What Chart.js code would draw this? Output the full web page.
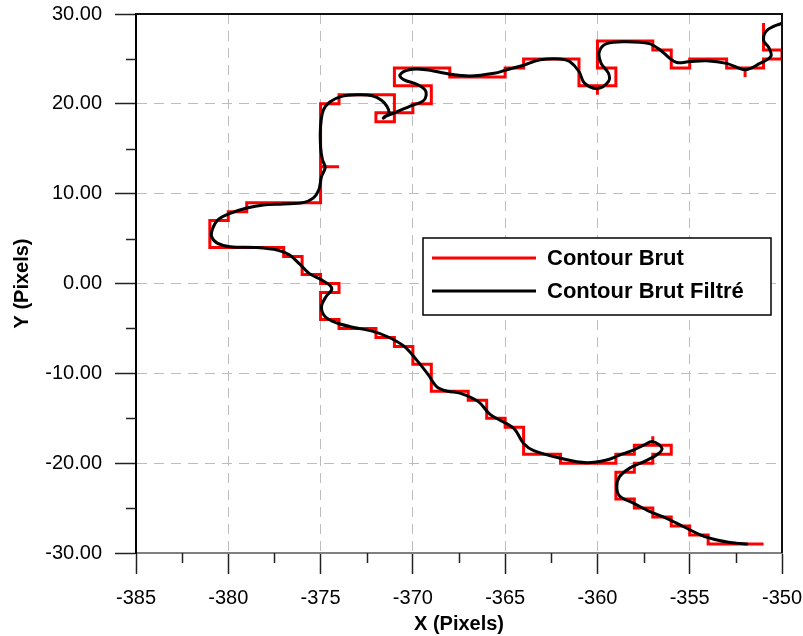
<!DOCTYPE html>
<html>
<head>
<meta charset="utf-8">
<script src="https://cdn.jsdelivr.net/npm/chart.js@4/dist/chart.umd.min.js"></script>
<style>
  html, body { margin: 0; padding: 0; background: #fff; }
  #wrap { width: 803px; height: 636px; }
</style>
</head>
<body>
<div id="wrap"><canvas id="c" width="803" height="636"></canvas></div>
<script>
// Raw pixel contour (integer steps)
const rawX = [-351,-351,-350,-350,-351,-351,-352,-352,-352,-353,-353,-355,-355,-356,-356,-357,-357,-360,-360,-359,-359,-360,-360,-360,-361,-361,-364,-364,-365,-365,-368,-368,-371,-371,-369,-369,-370,-370,-372,-372,-371,-371,-374,-374,-375,-375,-374,-375,-375,-379,-379,-380,-380,-381,-381,-377,-377,-376,-376,-375,-375,-374,-374,-375,-375,-374,-374,-372,-372,-371,-371,-370,-370,-369,-369,-367,-367,-366,-366,-365,-365,-364,-364,-362,-362,-359,-359,-358,-358,-357,-357,-357,-356,-356,-357,-357,-358,-358,-359,-359,-358,-358,-357,-357,-356,-356,-355,-355,-354,-354,-351];
const rawY = [29,26,26,25,25,24,24,23,24,24,25,25,24,24,26,26,27,27,24,24,22,22,21,22,22,25,25,24,24,23,23,24,24,22,22,20,20,19,19,18,18,21,21,20,20,13,13,13,9,9,8,8,7,7,4,4,3,3,1,1,0,0,-1,-1,-4,-4,-5,-5,-6,-6,-7,-7,-9,-9,-12,-12,-13,-13,-15,-15,-16,-16,-19,-19,-20,-20,-19,-19,-18,-18,-17,-18,-18,-19,-19,-20,-20,-21,-21,-24,-24,-25,-25,-26,-26,-27,-27,-28,-28,-29,-29];

// Smoothed contour
const filtX = [-350.0,-350.8,-351.0,-350.7,-350.6,-351.2,-352.0,-353.0,-354.1,-355.0,-355.7,-356.1,-356.6,-357.2,-358.4,-359.5,-359.9,-359.8,-359.4,-359.4,-360.0,-360.7,-361.0,-361.5,-362.0,-363.1,-364.0,-364.9,-365.6,-366.9,-368.0,-369.3,-370.2,-370.7,-370.5,-369.7,-369.3,-369.4,-370.2,-371.0,-371.5,-371.6,-371.3,-371.4,-371.7,-372.2,-373.0,-373.9,-374.5,-374.85,-375.0,-375.0,-374.9,-374.75,-374.95,-375.1,-375.4,-375.95,-377.0,-378.1,-379.0,-379.9,-380.55,-380.85,-380.9,-380.6,-379.9,-378.5,-377.3,-376.7,-376.1,-375.6,-374.95,-374.5,-374.4,-374.7,-374.95,-374.75,-374.1,-373.2,-372.3,-371.4,-370.5,-369.8,-369.15,-368.7,-368.1,-367.45,-366.45,-365.8,-364.55,-364.0,-363.45,-362.0,-360.6,-359.5,-358.8,-358.05,-357.5,-357.0,-356.5,-356.8,-357.5,-358.25,-358.8,-358.95,-358.8,-358.05,-357.15,-356.25,-355.35,-354.4,-353.4,-352.5,-351.9];
const filtY = [29.0,28.2,27.1,26.2,25.3,24.5,23.8,24.5,24.8,24.7,24.6,25.1,26.0,26.7,26.9,26.7,25.8,24.5,23.4,22.5,21.7,22.3,23.6,24.7,25.0,24.9,24.3,23.8,23.4,23.1,23.3,23.8,23.8,23.2,22.7,22.1,21.4,20.4,19.7,19.0,18.6,18.4,19.0,19.7,20.4,20.9,21.0,20.8,20.2,19.3,17.5,15.2,13.8,12.9,11.9,10.4,9.5,9.0,8.85,8.75,8.4,7.8,7.1,6.1,5.2,4.5,4.1,4.0,3.7,3.2,2.1,1.1,0.4,-0.2,-0.7,-1.45,-2.6,-3.7,-4.4,-4.9,-5.25,-5.9,-6.95,-8.5,-10.2,-11.5,-12.0,-12.2,-13.15,-14.6,-16.1,-17.8,-18.6,-19.45,-19.95,-19.65,-19.1,-18.55,-18.0,-17.6,-18.35,-19.1,-19.85,-20.55,-21.5,-22.6,-23.65,-24.45,-25.4,-26.15,-27.05,-28.0,-28.6,-28.9,-29.0];

const seriesNames = ['Contour Brut', 'Contour Brut Filtré'];
const xTicks = [-385, -380, -375, -370, -365, -360, -355, -350];
const yTicks = [-30, -20, -10, 0, 10, 20, 30];

const FONT = '"Liberation Sans", Arial, Helvetica, sans-serif';

const toPoints = (xs, ys) => xs.map((x, i) => ({ x: x, y: ys[i] }));

// Fixed axis box size, no label overflow padding
const fixBox = (w, h) => (s) => {
  if (w !== null) s.width = w;
  if (h !== null) s.height = h;
  s.paddingTop = 0;
  s.paddingBottom = 0;
  s.paddingLeft = 0;
  s.paddingRight = 0;
};

// Minor ticks plus top/right frame
const framePlugin = {
  id: 'frame',
  afterDraw(chart) {
    const { ctx, chartArea: a, scales: { x, y } } = chart;
    ctx.save();
    ctx.setLineDash([]);
    ctx.strokeStyle = '#222';
    ctx.lineWidth = 1.5;
    ctx.beginPath();
    for (let v = xTicks[0] + 2.5; v < xTicks[xTicks.length - 1]; v += 5) {
      const px = Math.round(x.getPixelForValue(v)) + 0.5;
      ctx.moveTo(px, a.bottom);
      ctx.lineTo(px, a.bottom + 10);
    }
    for (let v = yTicks[0] + 5; v < yTicks[yTicks.length - 1]; v += 10) {
      const py = Math.round(y.getPixelForValue(v)) + 0.5;
      ctx.moveTo(a.left, py);
      ctx.lineTo(a.left - 10, py);
    }
    ctx.stroke();
    ctx.strokeStyle = '#111';
    ctx.lineWidth = 2;
    ctx.beginPath();
    ctx.moveTo(a.left, a.top);
    ctx.lineTo(a.right, a.top);
    ctx.lineTo(a.right, a.bottom);
    ctx.stroke();
    ctx.restore();
  }
};

// Boxed legend inside the plot area
const legendBoxPlugin = {
  id: 'legendBox',
  afterDraw(chart) {
    const { ctx } = chart;
    const bx = 423, by = 238, bw = 348, bh = 77;
    ctx.save();
    ctx.setLineDash([]);
    ctx.fillStyle = '#fff';
    ctx.fillRect(bx, by, bw, bh);
    ctx.strokeStyle = '#000';
    ctx.lineWidth = 1.5;
    ctx.strokeRect(bx, by, bw, bh);
    ctx.font = 'bold 22px ' + FONT;
    ctx.textBaseline = 'middle';
    ctx.textAlign = 'left';
    chart.data.datasets.forEach((ds, i) => {
      const ly = by + 20 + i * 33;
      ctx.strokeStyle = ds.borderColor;
      ctx.lineWidth = 3;
      ctx.beginPath();
      ctx.moveTo(bx + 9, ly);
      ctx.lineTo(bx + 113, ly);
      ctx.stroke();
      ctx.fillStyle = '#000';
      ctx.fillText(ds.label, bx + 124, ly + 1);
    });
    ctx.restore();
  }
};

const gridOpts = {
  color: '#bdbdbd',
  lineWidth: 1,
  drawTicks: true,
  tickLength: 21,
  tickColor: '#222',
  tickWidth: 1.5,
  tickBorderDash: []
};

new Chart(document.getElementById('c'), {
  type: 'scatter',
  data: {
    datasets: [
      {
        label: seriesNames[0],
        data: toPoints(rawX, rawY),
        showLine: true,
        borderColor: '#ff0000',
        borderWidth: 3,
        borderJoinStyle: 'miter',
        borderCapStyle: 'butt',
        pointRadius: 0,
        tension: 0,
        order: 2
      },
      {
        label: seriesNames[1],
        data: toPoints(filtX, filtY),
        showLine: true,
        borderColor: '#000000',
        borderWidth: 3,
        borderJoinStyle: 'round',
        borderCapStyle: 'round',
        pointRadius: 0,
        tension: 0.35,
        order: 1
      }
    ]
  },
  options: {
    responsive: false,
    animation: false,
    devicePixelRatio: 1,
    layout: { padding: { left: 0, right: 21, top: 14, bottom: 0 } },
    plugins: {
      legend: { display: false },
      tooltip: { enabled: false }
    },
    scales: {
      x: {
        type: 'linear',
        min: xTicks[0],
        max: xTicks[xTicks.length - 1],
        afterBuildTicks: (s) => { s.ticks = xTicks.map(v => ({ value: v })); },
        afterFit: fixBox(null, 83),
        ticks: {
          font: { family: FONT, size: 20 },
          color: '#000',
          padding: 12,
          maxRotation: 0,
          autoSkip: false,
          callback: (v) => String(v)
        },
        grid: gridOpts,
        border: { display: true, color: '#808080', width: 2, dash: [10, 7] },
        title: {
          display: true,
          text: 'X (Pixels)',
          font: { family: FONT, size: 20, weight: 'bold' },
          color: '#000',
          padding: { top: 0, bottom: 0 }
        }
      },
      y: {
        type: 'linear',
        min: yTicks[0],
        max: yTicks[yTicks.length - 1],
        afterBuildTicks: (s) => { s.ticks = yTicks.map(v => ({ value: v })); },
        afterFit: fixBox(136, null),
        ticks: {
          font: { family: FONT, size: 20 },
          color: '#000',
          padding: 13,
          autoSkip: false,
          callback: (v) => Number(v).toFixed(2)
        },
        grid: gridOpts,
        border: { display: true, color: '#000', width: 2, dash: [10, 7] },
        title: {
          display: true,
          text: 'Y (Pixels)',
          font: { family: FONT, size: 20, weight: 'bold' },
          color: '#000',
          padding: { top: 10, bottom: 0 }
        }
      }
    }
  },
  plugins: [framePlugin, legendBoxPlugin]
});
</script>
</body>
</html>
